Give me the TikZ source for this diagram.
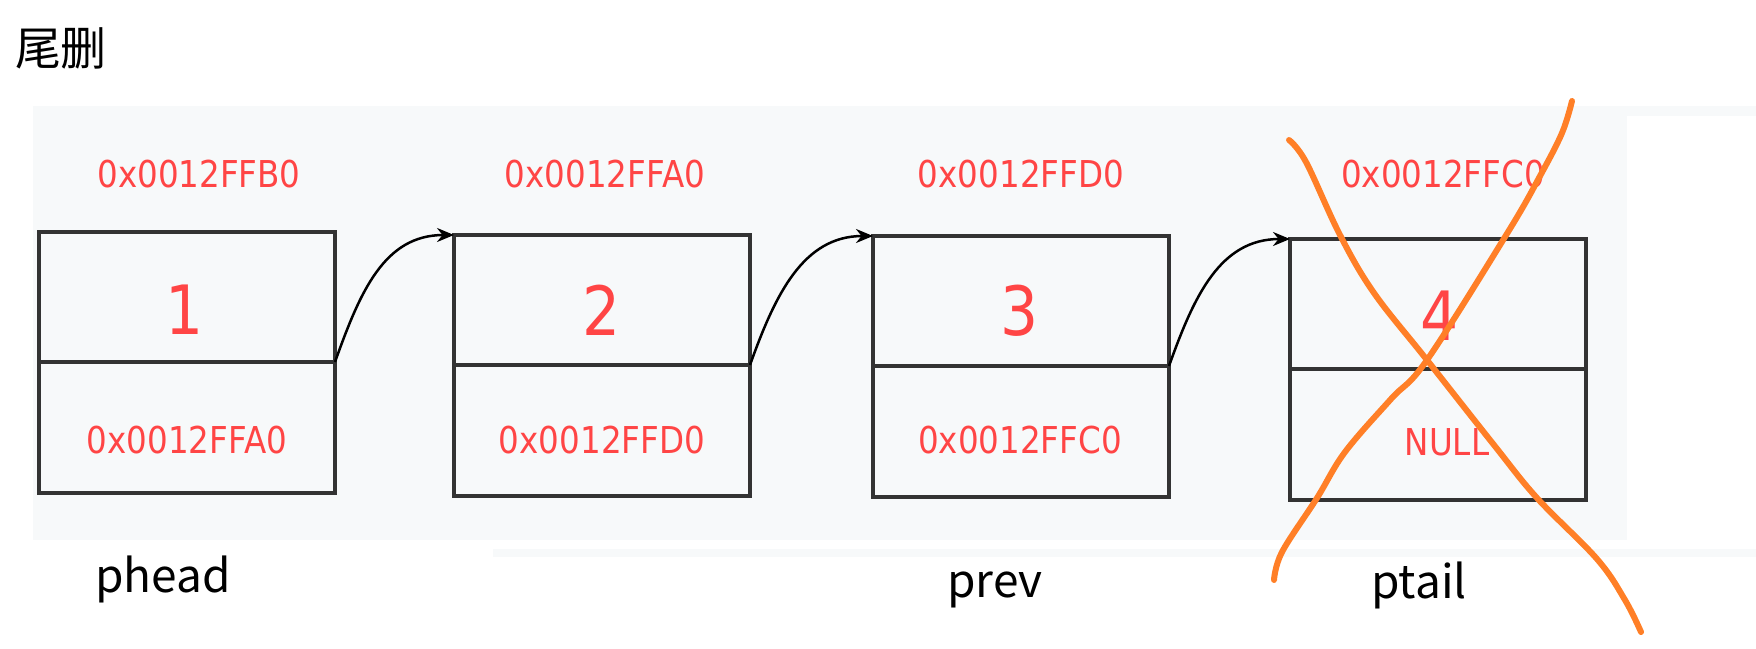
\documentclass[tikz,border=0pt]{standalone}
\usepackage{fontspec}
\usetikzlibrary{arrows.meta}
\newfontfamily\cjk{Noto Sans CJK SC}
\newfontfamily\addrf{DejaVu Sans}[FakeStretch=0.88]
\definecolor{panel}{HTML}{F7F9FA}
\definecolor{addrred}{HTML}{FF4545}
\definecolor{boxline}{HTML}{333333}
\definecolor{cross}{HTML}{FF7F27}
\tikzset{
  cell/.style={draw=boxline, line width=3.5pt, fill=panel, minimum width=296pt, inner sep=0pt, outer sep=0pt},
  topcell/.style={cell, minimum height=130pt},
  botcell/.style={cell, minimum height=131pt},
  addr/.style={text=addrred, font=\addrf\fontsize{37}{44}\selectfont, inner sep=0pt},
  num/.style={text=addrred, font=\addrf\fontsize{68}{80}\selectfont, inner sep=0pt},
  ptrlabel/.style={font=\cjk\fontsize{46}{52}\selectfont, inner sep=0pt},
  link/.style={line width=2.5pt, -{Stealth[length=17pt,width=14pt]}},
  xline/.style={draw=cross, line width=6pt, line cap=round, line join=round}
}
\begin{document}
\begin{tikzpicture}[x=1pt,y=-1pt]
\useasboundingbox (0,0) rectangle (1756,648);
% background panels
\fill[panel] (33,106) rectangle (1627,540);
\fill[panel] (1627,106) rectangle (1756,116);
\fill[panel] (493,549) rectangle (1756,557);
% title
\node[font=\cjk\fontsize{46}{52}\selectfont, inner sep=0pt] (title) at (61,48) {尾删};
% boxes
\node[topcell] (t1) at (187,297) {};
\node[botcell, anchor=north] (b1) at (t1.south) {};
\node[topcell] (t2) at (602,300) {};
\node[botcell, anchor=north] (b2) at (t2.south) {};
\node[topcell] (t3) at (1021,301) {};
\node[botcell, anchor=north] (b3) at (t3.south) {};
\node[topcell] (t4) at (1438,304) {};
\node[botcell, anchor=north] (b4) at (t4.south) {};
% top addresses
\node[addr] (a1) at (199,174) {0x0012FFB0};
\node[addr] (a2) at (605,174) {0x0012FFA0};
\node[addr] (a3) at (1021,174) {0x0012FFD0};
\node[addr] (a4) at (1443,174) {0x0012FFC0};
% numbers
\node[num] (n1) at (185,310) {1};
\node[num] (n2) at (602,310) {2};
\node[num] (n3) at (1020,311) {3};
\node[num] (n4) at (1440,316) {4};
% next pointers
\node[addr] (p1) at (187,440) {0x0012FFA0};
\node[addr] (p2) at (602,440) {0x0012FFD0};
\node[addr] (p3) at (1020,440) {0x0012FFC0};
\node[addr] (p4) at (1447,442) {NULL};
% links
\draw[link] (t1.south east) .. controls +(25,-70) and +(-70,0) .. (t2.north west);
\draw[link] (t2.south east) .. controls +(25,-70) and +(-70,0) .. (t3.north west);
\draw[link] (t3.south east) .. controls +(25,-70) and +(-70,0) .. (t4.north west);
% pointer labels
\node[ptrlabel] (phead) at (163,579) {phead};
\node[ptrlabel] (prev) at (995,590) {prev};
\node[ptrlabel] (ptail) at (1419,585) {ptail};
% orange cross
\draw[xline] plot[smooth, tension=0.6] coordinates {(1289,140) (1306,162) (1340,235) (1374,293) (1427,360) (1494,445) (1537,498) (1597,559) (1625,600) (1641,632)};
\draw[xline] plot[smooth, tension=0.6] coordinates {(1572,101) (1562,133) (1540,176) (1508,232) (1427,360) (1391,399) (1345,452) (1317,498) (1282,552) (1274,580)};
\end{tikzpicture}
\end{document}
